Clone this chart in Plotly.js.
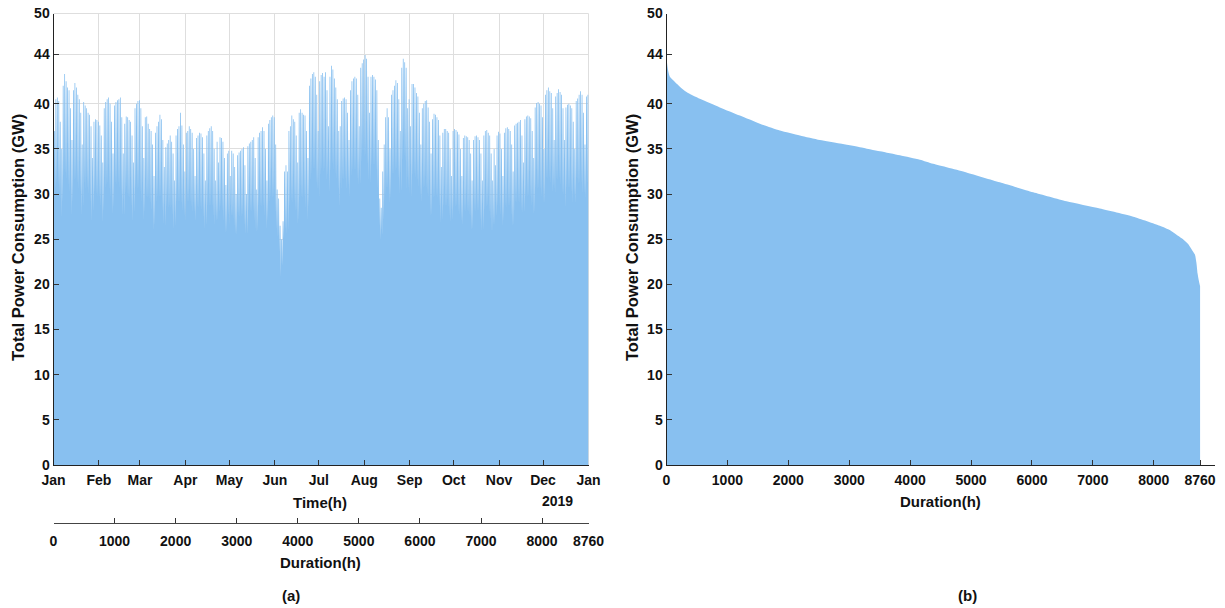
<!DOCTYPE html>
<html>
<head>
<meta charset="utf-8">
<script src="https://cdn.plot.ly/plotly-3.0.1.min.js"></script>
<style>
  html, body { margin: 0; padding: 0; background: #ffffff; }
  #chart { width: 1225px; height: 608px; }
</style>
</head>
<body>
<div id="chart"></div>
<script>
// ---------- Data ----------
// Daily peak load (GW, plotted scale), one row per week Mon..Sun (row 0 starts Tue 1 Jan 2019)
const dailyPeak = [
                 37.0, 40.5, 40.7, 40.3, 38.0, 35.0,
  42.0, 43.3, 42.5, 41.8, 41.5, 39.5, 36.0,
  41.5, 42.3, 41.8, 41.0, 40.5, 39.0, 35.5,
  40.2, 39.8, 39.5, 39.0, 38.8, 37.5, 34.0,
  38.0, 38.3, 38.2, 38.0, 37.6, 36.5, 33.5,
  39.5, 40.2, 40.5, 40.7, 40.0, 38.0, 34.5,
  39.8, 40.2, 40.4, 40.5, 40.7, 38.5, 34.5,
  37.8, 38.6, 38.5, 38.2, 38.0, 36.5, 33.5,
  39.5, 40.0, 40.3, 40.4, 39.5, 37.5, 34.0,
  38.5, 38.6, 37.8, 37.2, 37.0, 35.5, 32.0,
  36.8, 37.5, 38.0, 38.8, 38.3, 36.0, 33.0,
  35.2, 35.6, 36.0, 36.5, 35.8, 34.5, 31.5,
  36.5, 37.2, 37.5, 39.0, 37.6, 35.5, 32.5,
  36.8, 37.0, 37.5, 37.2, 36.8, 35.0, 32.0,
  36.2, 36.5, 36.8, 36.7, 36.3, 34.5, 31.5,
  36.5, 37.0, 37.3, 37.5, 37.0, 35.0, 31.5,
  35.8, 33.5, 36.3, 36.2, 35.8, 34.0, 31.0,
  34.5, 34.8, 32.0, 34.8, 34.5, 33.0, 30.0,
  34.3, 34.6, 34.8, 35.0, 35.2, 33.2, 30.0,
  35.3, 35.6, 35.8, 36.0, 36.3, 34.0, 30.5,
  36.3, 36.8, 37.0, 37.4, 37.0, 35.0, 31.5,
  37.8, 38.2, 38.5, 38.7, 38.5, 35.5, 30.5,
  29.5, 26.5, 25.0, 27.0, 32.5, 33.2, 32.5,
  37.0, 37.5, 38.7, 38.3, 38.0, 36.5, 33.5,
  39.0, 39.4, 39.0, 38.8, 38.7, 37.0, 34.0,
  42.0, 42.8, 43.3, 43.5, 43.0, 41.0, 37.0,
  42.5, 43.2, 43.4, 43.0, 43.5, 41.5, 37.5,
  43.0, 44.2, 43.8, 42.8, 41.8, 40.5, 37.0,
  37.5, 40.3, 40.6, 40.7, 40.5, 39.0, 36.0,
  41.5, 42.5, 42.8, 43.0, 42.8, 41.0, 37.5,
  44.0, 44.5, 44.9, 45.4, 45.0, 43.0, 39.0,
  43.0, 43.2, 43.0, 42.7, 41.5, 36.0, 29.5,
  28.5, 32.5, 35.5, 38.5, 39.5, 38.5, 35.0,
  41.0, 41.5, 42.0, 42.6, 42.3, 40.5, 37.0,
  44.0, 45.0, 44.6, 44.0, 39.5, 40.5, 37.5,
  42.2, 42.2, 41.8, 41.2, 40.8, 39.0, 35.5,
  39.5, 40.0, 40.3, 40.4, 39.6, 38.0, 34.5,
  38.3, 38.9, 38.8, 38.5, 38.2, 36.5, 33.0,
  36.8, 37.2, 37.2, 37.0, 36.8, 35.0, 32.0,
  37.0, 37.2, 37.1, 36.9, 36.6, 35.0, 32.0,
  36.2, 36.5, 36.4, 36.3, 36.0, 34.5, 31.5,
  36.0, 36.4, 36.5, 36.3, 36.0, 34.5, 31.5,
  36.5, 37.0, 37.1, 36.8, 36.5, 34.5, 31.5,
  35.0, 33.2, 36.5, 36.9, 36.7, 35.0, 32.0,
  36.8, 37.3, 37.4, 37.2, 37.0, 35.5, 32.5,
  37.6, 37.8, 37.9, 38.0, 38.2, 36.5, 33.5,
  38.3, 38.6, 38.7, 38.6, 38.4, 37.0, 34.0,
  39.6, 40.1, 40.2, 40.0, 39.8, 38.5, 35.0,
  41.0, 41.5, 41.8, 41.4, 41.2, 39.5, 36.0,
  40.8, 41.2, 41.6, 41.3, 41.0, 39.5, 36.0,
  39.6, 39.9, 40.0, 39.8, 39.5, 38.0, 35.0,
  40.3, 40.6, 41.0, 41.4, 41.0, 39.0, 35.5,
  40.8, 41.0
];
// Daily night trough (GW, plotted scale), same layout
const dailyLow = [
                 29.0, 30.5, 31.0, 31.0, 30.0, 27.5,
  29.0, 31.5, 32.0, 31.5, 31.0, 30.0, 27.5,
  29.0, 31.5, 31.5, 31.0, 30.5, 30.0, 27.5,
  28.5, 31.0, 30.5, 30.5, 30.0, 29.0, 27.0,
  28.0, 30.0, 30.0, 29.5, 29.5, 28.5, 26.7,
  28.0, 30.5, 31.0, 31.0, 30.5, 29.5, 27.8,
  28.5, 31.0, 31.0, 31.0, 30.5, 29.5, 27.5,
  27.5, 30.0, 30.0, 29.5, 29.5, 28.5, 27.0,
  28.0, 30.5, 30.5, 30.5, 30.0, 29.0, 27.0,
  28.0, 29.5, 29.5, 29.0, 29.0, 28.0, 25.8,
  26.5, 29.0, 29.5, 29.5, 29.5, 28.0, 26.5,
  26.5, 28.5, 28.5, 28.5, 28.0, 27.5, 26.0,
  26.5, 29.0, 29.0, 29.0, 29.0, 28.0, 27.5,
  27.0, 29.0, 29.0, 29.0, 28.5, 28.0, 28.0,
  27.0, 28.5, 28.5, 28.5, 28.0, 27.5, 26.0,
  26.5, 28.5, 28.5, 28.5, 28.5, 27.5, 26.5,
  27.0, 27.0, 28.0, 28.5, 28.0, 27.0, 25.6,
  25.8, 27.5, 26.5, 27.5, 27.5, 26.5, 25.5,
  25.5, 27.5, 27.5, 27.5, 27.5, 26.5, 25.5,
  25.5, 28.0, 28.0, 28.0, 28.0, 27.0, 25.5,
  26.0, 28.5, 28.5, 28.5, 28.5, 27.5, 26.0,
  27.0, 29.0, 29.5, 29.5, 29.5, 28.0, 26.0,
  25.0, 23.5, 20.8, 22.0, 25.0, 26.0, 25.5,
  26.0, 28.5, 29.0, 29.0, 29.0, 28.0, 26.5,
  27.0, 29.5, 29.5, 29.5, 29.5, 28.5, 27.0,
  28.5, 31.5, 32.0, 32.5, 32.5, 31.0, 30.4,
  29.5, 32.0, 32.5, 32.5, 32.5, 31.5, 32.0,
  30.0, 32.5, 33.0, 32.5, 32.0, 31.5, 30.4,
  28.5, 30.5, 31.5, 31.5, 31.5, 30.5, 31.0,
  29.5, 32.0, 32.5, 32.5, 32.5, 31.5, 31.0,
  31.0, 33.5, 34.0, 34.0, 34.0, 33.0, 31.5,
  31.0, 33.0, 33.0, 33.0, 32.5, 30.5, 26.5,
  24.9, 25.5, 27.0, 29.0, 30.5, 30.5, 29.0,
  29.5, 32.0, 32.0, 32.5, 32.5, 31.5, 30.0,
  30.0, 33.5, 34.0, 33.5, 30.5, 30.5, 30.0,
  29.5, 32.0, 32.0, 31.5, 31.5, 30.5, 29.7,
  29.0, 30.5, 30.5, 30.5, 30.0, 29.5, 27.6,
  27.5, 29.5, 29.5, 29.5, 29.5, 28.5, 26.7,
  27.0, 28.5, 28.5, 28.5, 28.5, 27.5, 26.9,
  27.0, 28.5, 28.5, 28.5, 28.0, 27.5, 26.9,
  26.5, 28.0, 28.0, 28.0, 28.0, 27.0, 26.0,
  26.0, 28.0, 28.0, 28.0, 28.0, 27.0, 25.8,
  26.0, 28.0, 28.5, 28.5, 28.0, 27.0, 25.4,
  26.5, 26.5, 27.5, 28.5, 28.5, 27.5, 26.5,
  27.0, 28.5, 28.5, 28.5, 28.5, 27.5, 26.3,
  26.5, 29.0, 29.0, 29.0, 29.0, 28.0, 27.8,
  28.0, 29.5, 29.5, 29.5, 29.5, 28.5, 27.6,
  28.0, 30.5, 30.5, 30.5, 30.5, 29.5, 28.9,
  29.0, 31.5, 31.5, 31.5, 31.0, 30.0, 30.8,
  30.0, 31.5, 31.5, 31.5, 31.0, 30.0, 29.7,
  28.5, 30.5, 30.5, 30.5, 30.0, 29.0, 29.7,
  29.0, 31.0, 31.0, 31.0, 31.0, 30.0, 30.0,
  29.5, 31.0
];

// Load-duration curve (sorted hourly load): duration (h) and load (GW, plotted scale)
const durationHours = [0, 11, 27, 55, 110, 219, 329, 548, 876, 1205, 1533, 1862, 2190, 2518, 2847, 3175,
  3504, 3832, 4161, 4378, 4925, 5472, 6020, 6567, 7114, 7662, 8100, 8268, 8374, 8480, 8560, 8620, 8675, 8700, 8719, 8740, 8760];
const durationLoad = [45.4, 44.4, 43.7, 43.0, 42.6, 41.9, 41.3, 40.55, 39.6, 38.7, 37.8, 37.05, 36.5, 36.0, 35.6, 35.2,
  34.75, 34.3, 33.8, 33.35, 32.4, 31.3, 30.2, 29.2, 28.4, 27.5, 26.5, 26.0, 25.5, 25.0, 24.5, 23.9, 23.3, 22.4, 21.2, 20.4, 19.8];

// Tick labels
const monthLabels = ["Jan","Feb","Mar","Apr","May","Jun","Jul","Aug","Sep","Oct","Nov","Dec","Jan"];
const monthStartHours = [0, 744, 1416, 2160, 2880, 3624, 4344, 5088, 5832, 6552, 7296, 8016, 8760];
const durationTicks = [0, 1000, 2000, 3000, 4000, 5000, 6000, 7000, 8000, 8760];
const yTickVals = [0, 5, 10, 15, 20, 25, 30, 35, 40, 45.5, 50];
const yTickLabels = ["0","5","10","15","20","25","30","35","40","44","50"];

// ---------- Build hourly-position series from the daily values ----------
const tx = [0], ty = [dailyLow[0]];
for (let d = 0; d < dailyPeak.length; d++) {
  tx.push(24 * d + 4);  ty.push(dailyLow[d]);
  tx.push(24 * d + 8);  ty.push(dailyPeak[d]);
  tx.push(24 * d + 21); ty.push(dailyPeak[d]);
}
tx.push(8760); ty.push(dailyPeak[dailyPeak.length - 1]);

const W = 1225, H = 608;
const px = v => v / W;
const py = v => 1 - v / H;

const FILL = 'rgb(136,192,240)';
const FONT = 'Liberation Sans, Arial, sans-serif';
const tickFont = { family: FONT, size: 14, color: '#111', weight: 'bold' };

const traces = [
  { type: 'scatter', x: tx, y: ty, xaxis: 'x', yaxis: 'y', mode: 'lines',
    line: { width: 0, color: FILL }, fill: 'tozeroy', fillcolor: FILL,
    hoverinfo: 'skip', showlegend: false },
  { type: 'scatter', x: [durationTicks[0], durationTicks[durationTicks.length - 1]], y: [0, 0],
    xaxis: 'x3', yaxis: 'y', mode: 'markers', marker: { opacity: 0 }, hoverinfo: 'skip', showlegend: false },
  { type: 'scatter', x: durationHours, y: durationLoad, xaxis: 'x2', yaxis: 'y2', mode: 'lines',
    line: { width: 0, color: FILL, shape: 'spline', smoothing: 0.6 }, fill: 'tozeroy', fillcolor: FILL,
    hoverinfo: 'skip', showlegend: false }
];

const xDomL = [px(53.5), px(588.5)];
const xDomR = [px(666.5), px(1215)];
const yDom = [py(465), py(13.5)];

const common = {
  ticks: 'inside', ticklen: 5, tickcolor: '#333', tickwidth: 1,
  showline: true, linecolor: '#222', linewidth: 1,
  zeroline: false, tickfont: tickFont, fixedrange: true
};

const layout = {
  width: W, height: H,
  margin: { l: 0, r: 0, t: 0, b: 0 },
  paper_bgcolor: '#ffffff', plot_bgcolor: 'rgba(0,0,0,0)',
  showlegend: false,
  xaxis: Object.assign({}, common, {
    domain: xDomL, range: [0, 8760], anchor: 'y',
    tickmode: 'array', tickvals: monthStartHours, ticktext: monthLabels,
    showgrid: true, gridcolor: '#dedede', gridwidth: 1, ticklabelstandoff: 2
  }),
  yaxis: Object.assign({}, common, {
    domain: yDom, range: [0, 50], anchor: 'x',
    tickmode: 'array', tickvals: yTickVals, ticktext: yTickLabels,
    showgrid: true, gridcolor: '#dedede', gridwidth: 1
  }),
  xaxis3: Object.assign({}, common, {
    overlaying: 'x', anchor: 'free', position: py(523), side: 'bottom',
    range: [0, 8760], tickmode: 'array', tickvals: durationTicks,
    showgrid: false, linecolor: '#444', ticklabelstandoff: 5
  }),
  xaxis2: Object.assign({}, common, {
    domain: xDomR, range: [0, 9005], anchor: 'y2',
    tickmode: 'array', tickvals: durationTicks, showgrid: false, ticklabelstandoff: 2
  }),
  yaxis2: Object.assign({}, common, {
    domain: yDom, range: [0, 50], anchor: 'x2',
    tickmode: 'array', tickvals: yTickVals, ticktext: yTickLabels, showgrid: false
  }),
  shapes: [
    { type: 'line', xref: 'paper', yref: 'paper', x0: xDomL[0], x1: xDomL[1], y0: yDom[1], y1: yDom[1],
      line: { color: '#dedede', width: 1 }, layer: 'below' },
    { type: 'line', xref: 'paper', yref: 'paper', x0: xDomL[1], x1: xDomL[1], y0: yDom[0], y1: yDom[1],
      line: { color: '#dedede', width: 1 }, layer: 'below' }
  ],
  annotations: [
    { text: 'Total Power Consumption (GW)', x: px(18), y: py(238), textangle: -90 },
    { text: 'Total Power Consumption (GW)', x: px(632), y: py(238), textangle: -90 },
    { text: 'Time(h)', x: px(320), y: py(502) },
    { text: '2019', x: px(557), y: py(501) },
    { text: 'Duration(h)', x: px(320), y: py(562) },
    { text: 'Duration(h)', x: px(940), y: py(501) },
    { text: '(a)', x: px(291), y: py(595) },
    { text: '(b)', x: px(967), y: py(595) }
  ].map((a, i) => Object.assign({
    xref: 'paper', yref: 'paper', showarrow: false, xanchor: 'center', yanchor: 'middle',
    font: { family: FONT, size: (i < 2 ? 16.5 : (i === 3 ? 14 : 15)), color: '#111', weight: 'bold' }
  }, a))
};

Plotly.newPlot('chart', traces, layout, { staticPlot: true, displayModeBar: false });
</script>
</body>
</html>
